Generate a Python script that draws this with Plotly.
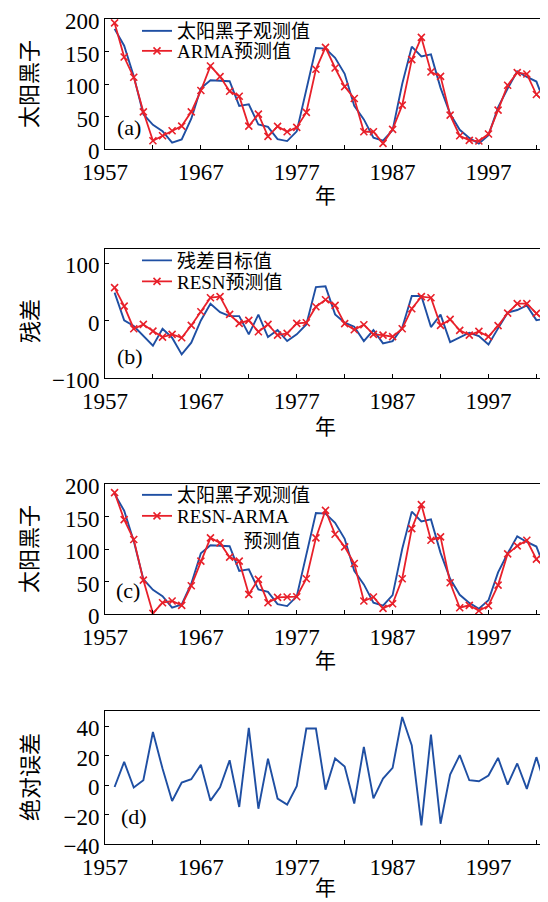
import plotly.graph_objects as go
from plotly.subplots import make_subplots

years = list(range(1958, 2004))

sunspot_obs = [184.8, 159.0, 112.3, 53.9, 37.6, 27.9, 10.2, 15.1, 47.0, 93.8,
               105.9, 105.5, 104.5, 66.6, 68.9, 38.0, 34.5, 15.5, 12.6, 27.5,
               92.5, 155.4, 154.6, 140.4, 115.9, 66.6, 45.9, 17.9, 13.4, 29.4,
               100.2, 157.6, 142.6, 145.7, 94.3, 54.6, 29.9, 17.5, 8.6, 21.5,
               64.3, 93.3, 119.6, 111.0, 104.0, 66.0]

arma_pred = [194.0, 141.6, 110.6, 57.5, 13.2, 20.8, 28.4, 35.6, 57.5, 90.2,
             127.8, 111.6, 89.1, 81.5, 35.6, 54.0, 19.9, 35.2, 26.9, 33.6,
             56.6, 122.8, 156.5, 124.8, 96.3, 78.0, 26.9, 26.9, 9.2, 30.6,
             67.7, 137.6, 171.7, 118.7, 112.0, 52.4, 20.8, 13.8, 12.7, 23.4,
             60.1, 98.3, 117.7, 115.6, 84.1, 70.3]

resid_target = [48.9, 0.5, -9.3, -26.8, -43.7, -14.0, -29.7, -58.8, -38.4, 0.5,
                29.7, 15.0, 8.0, 8.0, -23.9, 10.5, -28.6, -16.4, -35.6, -23.9,
                -6.5, 58.6, 60.0, 11.0, -3.5, -10.5, -35.6, -16.4, -39.6, -35.6,
                -12.2, 43.0, 43.0, -11.1, 10.5, -37.3, -29.7, -21.0, -26.8, -41.4,
                -13.4, 14.0, 18.6, 26.7, 1.0, 3.5]

resn_pred = [57.6, 25.5, -14.0, -6.5, -18.1, -28.6, -23.9, -29.7, -8.2, 15.7,
             40.1, 41.9, 11.0, -4.7, 0.5, -19.2, -6.5, -25.1, -22.2, -4.7,
             -3.5, 24.4, 36.6, 26.7, -5.2, -15.7, -7.0, -23.9, -25.1, -27.9,
             -14.0, 20.9, 41.9, 40.1, -8.2, 2.3, -16.9, -25.1, -18.7, -27.9,
             -8.7, 13.3, 29.7, 29.7, 12.7, -2.4]

resn_arma_pred = [186.7, 145.4, 114.8, 52.5, 1.5, 17.8, 20.4, 13.8, 43.8, 81.6,
                  117.3, 109.6, 87.7, 81.6, 30.6, 53.6, 17.8, 26.0, 26.5, 27.0,
                  54.5, 117.3, 159.6, 122.9, 103.5, 78.0, 20.4, 26.5, 9.2, 16.2,
                  54.5, 131.6, 168.4, 113.7, 118.8, 48.4, 10.1, 13.8, 5.5, 13.2,
                  44.8, 92.8, 105.0, 113.7, 84.6, 68.9]

abs_error = [-1.2, 15.9, -1.6, 3.4, 36.2, 11.3, -10.7, 1.8, 4.1, 13.9,
             -10.5, -1.4, 17.0, -14.8, 39.1, -16.0, 18.0, -9.1, -13.2, -0.7,
             38.6, 38.6, -3.0, 18.2, 12.7, -12.5, 26.1, -8.9, 4.5, 11.8,
             46.4, 27.0, -27.3, 34.5, -26.2, 7.2, 20.5, 3.4, 2.7, 6.6,
             18.6, 0.4, 14.8, -2.5, 19.1, -1.8]

x_tickvals = [1957, 1962, 1967, 1972, 1977, 1982, 1987, 1992, 1997, 2002]
x_ticktext = ["1957", "", "1967", "", "1977", "", "1987", "", "1997", ""]

BLUE = "#1f4fa3"
RED = "#e8202a"
FONT = "Liberation Serif, Noto Sans CJK SC, serif"

fig = make_subplots(rows=4, cols=1)

blue_line = dict(color=BLUE, width=1.9)
red_line = dict(color=RED, width=1.8)
red_marker = dict(symbol="x-thin", size=7, color=RED, line=dict(color=RED, width=1.6))

NB = "\u00a0"

fig.add_trace(go.Scatter(x=years, y=sunspot_obs, mode="lines", line=blue_line,
                         name="太阳黑子观测值", legend="legend"), row=1, col=1)
fig.add_trace(go.Scatter(x=years, y=arma_pred, mode="lines+markers", line=red_line,
                         marker=red_marker, name="ARMA预测值", legend="legend2"), row=1, col=1)

fig.add_trace(go.Scatter(x=years, y=resid_target, mode="lines", line=blue_line,
                         name="残差目标值", legend="legend3"), row=2, col=1)
fig.add_trace(go.Scatter(x=years, y=resn_pred, mode="lines+markers", line=red_line,
                         marker=red_marker, name="RESN预测值", legend="legend4"), row=2, col=1)

fig.add_trace(go.Scatter(x=years, y=sunspot_obs, mode="lines", line=blue_line,
                         name="太阳黑子观测值", legend="legend5"), row=3, col=1)
fig.add_trace(go.Scatter(x=years, y=resn_arma_pred, mode="lines+markers", line=red_line,
                         marker=red_marker,
                         name="RESN-ARMA<br>" + NB * 14 + "预测值",
                         legend="legend6"), row=3, col=1)

fig.add_trace(go.Scatter(x=years, y=abs_error, mode="lines", line=blue_line,
                         showlegend=False), row=4, col=1)

# page is offset by the 8px body margin
W, H = 540, 894
T, B = 11, 58
PH = H - T - B  # 825
PW = W - 97 - 2  # 441


def frac(py):
    # py: page pixel y
    return (844 - py) / PH


def xfrac(px):
    return (px - 105) / PW


domains = [(149.3, 19), (378, 248.5), (614.3, 484), (844, 711)]
yranges = [[0, 200], [-100, 126], [0, 200], [-40, 50.5]]
ytickvals = [[0, 50, 100, 150, 200], [-100, 0, 100], [0, 50, 100, 150, 200],
             [-40, -20, 0, 20, 40]]

for i in range(4):
    n = "" if i == 0 else str(i + 1)
    fig.layout["yaxis" + n].update(
        domain=[max(0, frac(domains[i][0])), min(1, frac(domains[i][1]))],
        range=yranges[i], tickvals=ytickvals[i], ticks="inside", ticklen=4,
        tickcolor="black", showline=True, linecolor="black", linewidth=1,
        mirror=True, showgrid=False, zeroline=False, ticklabelshift=2,
        tickfont=dict(family=FONT, size=23, color="black"))
    fig.layout["xaxis" + n].update(
        range=[1957, 2003], tickvals=x_tickvals, ticktext=x_ticktext,
        ticks="inside", ticklen=4, tickcolor="black", showline=True,
        linecolor="black", linewidth=1, mirror=True, showgrid=False,
        zeroline=False, ticklabelstandoff=2,
        tickfont=dict(family=FONT, size=23, color="black"))

leg_common = dict(bgcolor="rgba(0,0,0,0)", font=dict(family=FONT, size=19, color="black"),
                  xanchor="left", yanchor="top", x=xfrac(137),
                  tracegroupgap=0, valign="top")
row_tops = [12.0, 32.0, 241.5, 262.5, 476.0, 497.0]
leg_layout = {}
for k, top in enumerate(row_tops):
    key = "legend" if k == 0 else "legend" + str(k + 1)
    leg_layout[key] = dict(leg_common, y=frac(top))

fig.update_layout(
    width=W, height=H,
    margin=dict(l=97, r=2, t=T, b=B),
    paper_bgcolor="white", plot_bgcolor="white",
    font=dict(family=FONT, size=18, color="black"),
    **leg_layout,
)

ann = []
ylabels = [("太阳黑子", 84), ("残差", 321), ("太阳黑子", 549), ("绝对误差", 777)]
for txt, py in ylabels:
    ann.append(dict(text=txt, x=xfrac(30), y=frac(py), xref="paper", yref="paper",
                    showarrow=False, textangle=-90, xanchor="center", yanchor="middle",
                    font=dict(family=FONT, size=22, color="black")))
for py in [196, 427, 661, 888]:
    ann.append(dict(text="年", x=0.5, y=frac(py), xref="paper", yref="paper",
                    showarrow=False, xanchor="center", yanchor="middle",
                    font=dict(family=FONT, size=21, color="black")))
for txt, px, py in [("(a)", 128.5, 127.5), ("(b)", 129.5, 356), ("(c)", 127.5, 590),
                    ("(d)", 133.5, 816)]:
    ann.append(dict(text=txt, x=xfrac(px), y=frac(py), xref="paper", yref="paper",
                    showarrow=False, xanchor="center", yanchor="middle",
                    font=dict(family=FONT, size=22, color="black")))
fig.update_layout(annotations=ann)

fig.write_html("out.html")
